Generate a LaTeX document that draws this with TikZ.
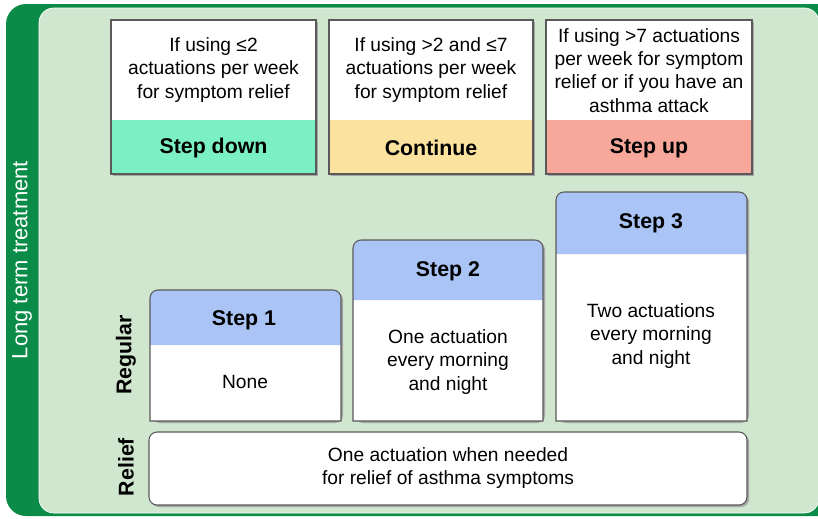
\documentclass[tikz,border=0pt]{standalone}
\usepackage{fontspec}
\setmainfont{Liberation Sans}
\definecolor{framegreen}{RGB}{10,140,72}
\definecolor{panelgreen}{RGB}{208,230,207}
\definecolor{downgreen}{RGB}{122,240,196}
\definecolor{keepyellow}{RGB}{251,226,158}
\definecolor{upred}{RGB}{247,168,154}
\definecolor{stepblue}{RGB}{170,197,245}
\definecolor{edgegray}{RGB}{90,90,90}
\begin{document}
\begin{tikzpicture}[x=0.75pt,y=-0.75pt,
  txt/.style={align=center,font=\fontsize{14.4}{17.4}\selectfont,inner sep=0pt},
  head/.style={align=center,font=\fontsize{16}{19}\selectfont\bfseries,inner sep=0pt},
  side/.style={rotate=90,font=\fontsize{16}{19}\selectfont\bfseries,inner sep=0pt},
  shade/.style={fill=black!35},
  edge/.style={draw=edgegray,line width=0.8pt}]
  \useasboundingbox (0,0) rectangle (818,518);
  %Frame and panel
  \fill[framegreen,rounded corners=15pt] (6,4) rectangle (840,516);
  \filldraw[fill=panelgreen,draw=white,line width=0.5pt,rounded corners=11pt] (39,8) rectangle (819,513);
  \node[rotate=90,white,font=\fontsize{16.5}{19}\selectfont,inner sep=0pt] (lt) at (22,260) {Long term treatment};

  %Decision boxes
  \fill[shade] (113,22) rectangle (318,176);
  \fill[white] (111,20) rectangle (316,120);
  \fill[downgreen] (111,120) rectangle (316,174);
  \draw[edge] (111,20) rectangle (316,174);
  \node[txt] (cond1) at (213.5,70) {If using ≤2\\actuations per week\\for symptom relief};
  \node[head] (down) at (213.5,148) {Step down};

  \fill[shade] (331,22) rectangle (535,176);
  \fill[white] (329,20) rectangle (533,120);
  \fill[keepyellow] (329,120) rectangle (533,174);
  \draw[edge] (329,20) rectangle (533,174);
  \node[txt] (cond2) at (431,70) {If using >2 and ≤7\\actuations per week\\for symptom relief};
  \node[head] (keep) at (431,148) {Continue};

  \fill[shade] (548,22) rectangle (754,176);
  \fill[white] (546,20) rectangle (752,120);
  \fill[upred] (546,120) rectangle (752,174);
  \draw[edge] (546,20) rectangle (752,174);
  \node[txt] (cond3) at (649,70.5) {If using >7 actuations\\per week for symptom\\relief or if you have an\\asthma attack};
  \node[head] (up) at (649,148) {Step up};

  %Steps
  \fill[shade,rounded corners=6pt] (152,292) rectangle (343,423);
  \fill[white] (150,345) rectangle (341,421);
  \fill[stepblue] (150,345) [rounded corners=6pt] -- (150,290) -- (341,290) [sharp corners] -- (341,345) -- cycle;
  \draw[edge] (150,421) [rounded corners=6pt] -- (150,290) -- (341,290) [sharp corners] -- (341,421) -- cycle;
  \node[head] (s1) at (244,320) {Step 1};
  \node[txt] (s1body) at (245,382) {None};

  \fill[shade,rounded corners=6pt] (355,242) rectangle (545,423);
  \fill[white] (353,300) rectangle (543,421);
  \fill[stepblue] (353,300) [rounded corners=6pt] -- (353,240) -- (543,240) [sharp corners] -- (543,300) -- cycle;
  \draw[edge] (353,421) [rounded corners=6pt] -- (353,240) -- (543,240) [sharp corners] -- (543,421) -- cycle;
  \node[head] (s2) at (448,271) {Step 2};
  \node[txt] (s2body) at (448,362) {One actuation\\every morning\\and night};

  \fill[shade,rounded corners=6pt] (558,194) rectangle (749,423);
  \fill[white] (556,254) rectangle (747,421);
  \fill[stepblue] (556,254) [rounded corners=6pt] -- (556,192) -- (747,192) [sharp corners] -- (747,254) -- cycle;
  \draw[edge] (556,421) [rounded corners=6pt] -- (556,192) -- (747,192) [sharp corners] -- (747,421) -- cycle;
  \node[head] (s3) at (651,223) {Step 3};
  \node[txt] (s3body) at (651,336) {Two actuations\\every morning\\and night};

  %Relief
  \fill[shade,rounded corners=6pt] (151,434) rectangle (749,507);
  \filldraw[fill=white,edge,rounded corners=6pt] (149,432) rectangle (747,505);
  \node[txt] (relief) at (448,468) {One actuation when needed\\for relief of asthma symptoms};

  \node[side] (reg) at (126,355) {Regular};
  \node[side] (rel) at (126,467) {Relief};
\end{tikzpicture}
\end{document}
